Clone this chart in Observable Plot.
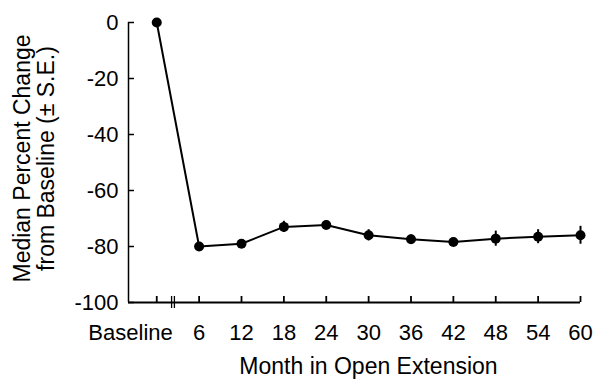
<!DOCTYPE html>
<html>
<head>
<meta charset="utf-8">
<script src="https://cdn.jsdelivr.net/npm/d3@7"></script>
<script src="https://cdn.jsdelivr.net/npm/@observablehq/plot@0.6"></script>
<style>
  html, body { margin: 0; padding: 0; background: #fff; }
  #chart svg { display: block; }
</style>
</head>
<body>
<div id="chart"></div>
<script>
// Data
const months = [0, 6, 12, 18, 24, 30, 36, 42, 48, 54, 60];
const medianChange = [0, -80, -79, -73, -72.3, -76, -77.4, -78.4, -77.2, -76.5, -76];
const stdErr = [0, 1, 1, 2, 1.5, 2, 1.5, 1, 2.7, 2.5, 3.2];
const xTickValues = [6, 12, 18, 24, 30, 36, 42, 48, 54, 60];
const yTickValues = [0, -20, -40, -60, -80, -100];
const baselineLabel = "Baseline";
const xTitle = "Month in Open Extension";
const yTitleLines = ["Median Percent Change", "from Baseline (± S.E.)"];
const axisBreak = [2.1, 2.5];

const data = months.map((m, i) => ({month: m, value: medianChange[i], se: stdErr[i]}));

const W = 594, H = 381;
const mL = 128, mR = 14, mT = 22, mB = 79;
const xDomain = [-4, 60], yDomain = [-100, 0];
const plotW = W - mL - mR, plotH = H - mT - mB;
const font = "'Liberation Sans', Arial, Helvetica, sans-serif";

const chart = Plot.plot({
  width: W, height: H,
  marginLeft: mL, marginRight: mR, marginTop: mT, marginBottom: mB,
  style: {fontFamily: font, background: "#fff", color: "#000", fontSize: "22px"},
  x: {domain: xDomain, axis: null},
  y: {domain: yDomain, axis: null},
  marks: [
    // axis lines
    Plot.ruleX([xDomain[0]], {stroke: "#000", strokeWidth: 1.5}),
    Plot.ruleY([yDomain[0]], {stroke: "#000", strokeWidth: 1.8}),
    // inward ticks
    Plot.tickY(yTickValues, {y: d => d, insetRight: plotW - 6, stroke: "#000", strokeWidth: 1.5}),
    Plot.tickX([0, ...xTickValues], {x: d => d, insetTop: plotH - 6, stroke: "#000", strokeWidth: 1.8}),
    // axis break marks
    Plot.tickX(axisBreak, {x: d => d, insetTop: plotH - 6, insetBottom: -6, stroke: "#000", strokeWidth: 1.3}),
    // tick labels
    Plot.text(yTickValues, {x: xDomain[0], y: d => d, text: d => String(d), textAnchor: "end", dx: -10, fontSize: 22}),
    Plot.text(xTickValues, {x: d => d, y: yDomain[0], text: d => String(d), dy: 30, fontSize: 22}),
    Plot.text([baselineLabel], {x: 0, y: yDomain[0], text: d => d, textAnchor: "end", dx: 16, dy: 30, fontSize: 22}),
    // titles
    Plot.text([xTitle], {frameAnchor: "bottom", textAnchor: "middle", text: d => d, dx: 14, dy: 71, fontSize: 23}),
    Plot.text([yTitleLines[0]], {frameAnchor: "left", textAnchor: "middle", text: d => d, rotate: -90, dx: -106, dy: -4, fontSize: 23}),
    Plot.text([yTitleLines[1]], {frameAnchor: "left", textAnchor: "middle", text: d => d, rotate: -90, dx: -82, dy: -4, fontSize: 23}),
    // data
    Plot.ruleX(data, {x: "month", y1: d => d.value - d.se, y2: d => d.value + d.se, stroke: "#000", strokeWidth: 2}),
    Plot.line(data, {x: "month", y: "value", stroke: "#000", strokeWidth: 2}),
    Plot.dot(data, {x: "month", y: "value", r: 5, fill: "#000", stroke: "none"})
  ]
});
document.getElementById("chart").appendChild(chart);
</script>
</body>
</html>
